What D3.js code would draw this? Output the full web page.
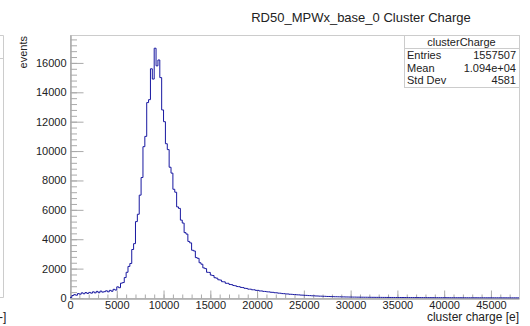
<!DOCTYPE html>
<html>
<head>
<meta charset="utf-8">
<script src="https://cdn.jsdelivr.net/npm/d3@7"></script>
<style>
  body { margin: 0; background: #fff; }
  text { font-family: "Liberation Sans", Arial, sans-serif; fill: #222; }
</style>
</head>
<body>
<div id="graph"></div>
<script>
// histogram binning and contents
var binLow = 0;
var binWidth = 200;
var counts = [
  40, 170, 230, 190, 300, 260, 350, 290, 370, 310,
  380, 330, 420, 350, 450, 360, 470, 400, 430, 490,
  420, 520, 460, 590, 540, 760, 700, 1010, 1050, 1390,
  1750, 2150, 2350, 3300, 3700, 5200, 5700, 7000, 8200, 10300,
  11000, 13300, 13500, 15600, 14900, 17000, 15800, 16200, 15000, 12800,
  12000, 10500, 10100, 8900, 8500, 7400, 7200, 6200, 6100, 5300,
  5100, 4450, 4350, 3850, 3750, 3250, 3200, 2750, 2700, 2400,
  2300, 2050, 2000, 1750, 1740, 1560, 1530, 1380, 1350, 1240,
  1220, 1110, 1100, 1000, 1000, 920, 910, 850, 830, 780,
  770, 720, 710, 660, 650, 600, 600, 560, 560, 520,
  520, 480, 480, 450, 445, 420, 415, 390, 385, 360,
  355, 330, 325, 300, 295, 275, 275, 255, 252, 236,
  232, 216, 212, 197, 194, 180, 178, 165, 162, 150,
  148, 138, 136, 126, 124, 115, 114, 105, 104, 96,
  95, 88, 87, 82, 81, 76, 74, 70, 69, 65,
  65, 61, 61, 57, 57, 53, 53, 50, 50, 47,
  47, 45, 45, 43, 43, 41, 41, 39, 39, 38,
  38, 36, 36, 35, 35, 33, 33, 32, 32, 31,
  31, 30, 30, 29, 29, 28, 28, 27, 27, 26,
  26, 25, 25, 24, 24, 23, 23, 23, 22, 22,
  22, 21, 21, 20, 20, 20, 19, 19, 19, 18,
  18, 18, 17, 17, 17, 16, 16, 16, 15, 15,
  15, 15, 14, 14, 14, 14, 13, 13, 13, 13,
  12, 12, 12, 12, 11, 11, 11, 11, 10, 10
];
var xRange = [0, 48000];
var yRange = [0, 17900];
var xTicks = [0, 5000, 10000, 15000, 20000, 25000, 30000, 35000, 40000, 45000];
var yTicks = [0, 2000, 4000, 6000, 8000, 10000, 12000, 14000, 16000];
var xMinorStep = 1000;
var yMinorStep = 400;

var title = "RD50_MPWx_base_0 Cluster Charge";
var xTitle = "cluster charge [e]";
var yTitle = "events";
var histName = "clusterCharge";
var statsNames = ["Entries", "Mean", "Std Dev"];
var statsValues = ["1557507", "1.094e+04", "4581"];

function render() {
  var width = 530, height = 326;
  var pLeft = 70, pRight = 519, pTop = 35, pBottom = 298;
  var axisColor = "#aaa";
  var histColor = "#1818a0";

  var svg = d3.select("#graph").html("").append("svg")
    .attr("width", width)
    .attr("height", height);

  var x = d3.scaleLinear().domain(xRange).range([pLeft, pRight]);
  var y = d3.scaleLinear().domain(yRange).range([pBottom, pTop]);

  // leftover edge of the neighbouring pad
  svg.append("path")
    .attr("d", "M0,35.5H3.5V297.5H0M0,58.5H3.5")
    .attr("fill", "none")
    .attr("stroke", "#ccc");
  svg.append("text")
    .attr("x", -1).attr("y", 321)
    .attr("font-size", 12)
    .text("-]");

  // frame
  svg.append("rect")
    .attr("x", pLeft + 0.5).attr("y", pTop + 0.5)
    .attr("width", pRight - pLeft).attr("height", pBottom - pTop)
    .attr("fill", "none")
    .attr("stroke", "#ccc");

  // minor ticks
  svg.append("g")
    .attr("transform", "translate(" + (pLeft + 0.5) + ",0)")
    .call(d3.axisLeft(y).tickValues(d3.range(0, yRange[1], yMinorStep))
      .tickSize(-6.5).tickSizeOuter(0).tickFormat(""));
  svg.append("g")
    .attr("transform", "translate(0," + (pBottom + 0.5) + ")")
    .call(d3.axisBottom(x).tickValues(d3.range(0, xRange[1], xMinorStep))
      .tickSize(-4).tickSizeOuter(0).tickFormat(""));

  // major ticks + labels
  svg.append("g")
    .attr("transform", "translate(" + (pLeft + 0.5) + ",0)")
    .call(d3.axisLeft(y).tickValues(yTicks).tickSize(-13).tickSizeOuter(0)
      .tickPadding(4).tickFormat(d3.format("d")));
  svg.append("g")
    .attr("transform", "translate(0," + (pBottom + 0.5) + ")")
    .call(d3.axisBottom(x).tickValues(xTicks).tickSize(-8).tickSizeOuter(0)
      .tickPadding(3).tickFormat(d3.format("d")));

  svg.selectAll(".domain").attr("stroke", axisColor);
  svg.selectAll(".tick line").attr("stroke", axisColor);
  svg.selectAll(".tick text")
    .attr("font-size", 11)
    .attr("font-family", "Liberation Sans, Arial, sans-serif")
    .attr("fill", "#222");

  // histogram, drawn as steps
  var pts = counts.map(function(c, i) { return [binLow + i * binWidth, c]; });
  pts.push([binLow + counts.length * binWidth, counts[counts.length - 1]]);

  var line = d3.line()
    .x(function(d) { return x(d[0]); })
    .y(function(d) { return y(d[1]); })
    .curve(d3.curveStepAfter);

  svg.append("path")
    .datum(pts)
    .attr("d", line)
    .attr("fill", "none")
    .attr("stroke", histColor)
    .attr("stroke-width", 1);

  // titles
  svg.append("text")
    .attr("x", 361).attr("y", 22)
    .attr("text-anchor", "middle")
    .attr("font-size", 13)
    .text(title);

  svg.append("text")
    .attr("x", pRight).attr("y", 321)
    .attr("text-anchor", "end")
    .attr("font-size", 12)
    .text(xTitle);

  svg.append("text")
    .attr("transform", "translate(27," + (pTop + 1) + ") rotate(-90)")
    .attr("text-anchor", "end")
    .attr("font-size", 11)
    .text(yTitle);

  // stats box
  var bx = 404, bw = pRight - bx, rowH = 12.5;
  var stats = svg.append("g");
  stats.append("rect")
    .attr("x", bx + 0.5).attr("y", pTop + 0.5)
    .attr("width", bw).attr("height", 52)
    .attr("fill", "#fff")
    .attr("stroke", "#ccc");
  stats.append("line")
    .attr("x1", bx).attr("x2", pRight)
    .attr("y1", pTop + 13.5).attr("y2", pTop + 13.5)
    .attr("stroke", "#ccc");
  stats.append("text")
    .attr("x", bx + bw / 2).attr("y", pTop + 11)
    .attr("text-anchor", "middle")
    .attr("font-size", 11)
    .text(histName);
  statsNames.forEach(function(n, i) {
    var yy = pTop + 24 + i * rowH;
    stats.append("text")
      .attr("x", bx + 3).attr("y", yy)
      .attr("font-size", 11)
      .text(n);
    stats.append("text")
      .attr("x", pRight - 3).attr("y", yy)
      .attr("text-anchor", "end")
      .attr("font-size", 11)
      .text(statsValues[i]);
  });
}

render();
</script>
</body>
</html>
